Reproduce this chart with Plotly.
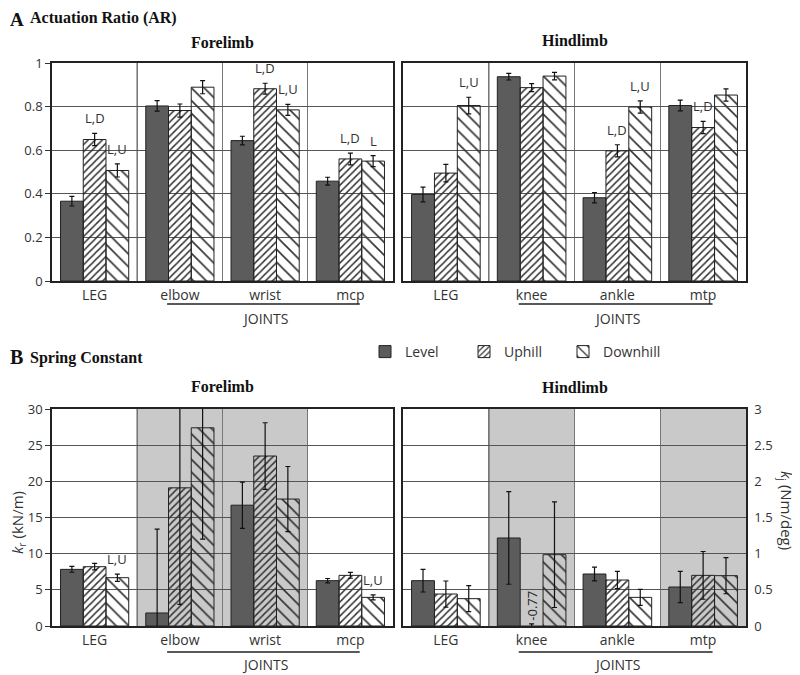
import plotly.graph_objects as go

# Categories
fore_cats = ["LEG", "elbow", "wrist", "mcp"]
hind_cats = ["LEG", "knee", "ankle", "mtp"]
series = ["Level", "Uphill", "Downhill"]

# A: actuation ratio (mean, error)
ar_fore_level = [0.366, 0.803, 0.644, 0.458]
ar_fore_level_err = [0.022, 0.024, 0.020, 0.018]
ar_fore_up = [0.649, 0.782, 0.882, 0.560]
ar_fore_up_err = [0.028, 0.030, 0.025, 0.027]
ar_fore_down = [0.507, 0.889, 0.785, 0.550]
ar_fore_down_err = [0.030, 0.030, 0.025, 0.025]

ar_hind_level = [0.397, 0.937, 0.382, 0.805]
ar_hind_level_err = [0.034, 0.015, 0.024, 0.025]
ar_hind_up = [0.495, 0.887, 0.597, 0.704]
ar_hind_up_err = [0.040, 0.018, 0.028, 0.028]
ar_hind_down = [0.805, 0.940, 0.798, 0.853]
ar_hind_down_err = [0.038, 0.017, 0.028, 0.028]

# B: spring constant, forelimb in kN/m, hindlimb in Nm/deg
k_fore_level = [7.83, 1.8, 16.7, 6.27]
k_fore_level_err = [0.4, 11.6, 3.2, 0.3]
k_fore_up = [8.2, 19.1, 23.5, 7.0]
k_fore_up_err = [0.45, 16.1, 4.6, 0.4]
k_fore_down = [6.68, 27.4, 17.55, 3.96]
k_fore_down_err = [0.5, 15.4, 4.5, 0.35]

k_hind_level = [0.627, 1.217, 0.719, 0.539]
k_hind_level_err = [0.157, 0.64, 0.095, 0.217]
k_hind_up = [0.442, -0.77, 0.636, 0.70]
k_hind_up_err = [0.18, 0.8, 0.12, 0.33]
k_hind_down = [0.378, 0.986, 0.396, 0.696]
k_hind_down_err = [0.18, 0.73, 0.11, 0.25]

# significance labels
ar_fore_up_sig = ["L,D", "", "L,D", "L,D"]
ar_fore_down_sig = ["L,U", "", "L,U", "L"]
ar_hind_up_sig = ["", "", "L,D", "L,D"]
ar_hind_down_sig = ["L,U", "", "L,U", ""]
k_fore_down_sig = ["L,U", "", "", "L,U"]

TICK_FONT = dict(family="Open Sans", size=13, color="#333")
SERIF = "Liberation Serif"
styles = {
    "Level": dict(color="#5c5c5c"),
    "Uphill": dict(color="rgba(0,0,0,0)",
                   pattern=dict(shape="/", size=5, solidity=0.3, fgcolor="#333", fillmode="replace")),
    "Downhill": dict(color="rgba(0,0,0,0)",
                     pattern=dict(shape="\\", size=9, solidity=0.18, fgcolor="#333", fillmode="replace")),
}

# page offset of the plot div (body margin)
W, H, OFF = 800, 675, 8


def px(x):
    return (x - OFF) / W


def py(y):
    return 1 - (y - OFF) / H


fig = go.Figure()


def add_panel(n, cats, vals, errs, legend):
    xa = "x" if n == 1 else f"x{n}"
    ya = "y" if n == 1 else f"y{n}"
    for name, v, e in zip(series, vals, errs):
        fig.add_trace(go.Bar(
            x=cats, y=v, name=name, xaxis=xa, yaxis=ya,
            marker=dict(**styles[name], line=dict(color="#222", width=1)),
            error_y=dict(type="data", array=e, color="#111", thickness=1.2, width=2.5),
            showlegend=legend, legendgroup=name,
        ))


def add_sig(n, vals, errs, labels, offset):
    xa = "x" if n == 1 else f"x{n}"
    ya = "y" if n == 1 else f"y{n}"
    for i, (v, e, lab) in enumerate(zip(vals, errs, labels)):
        if lab:
            fig.add_annotation(x=i + offset, y=v + e, xref=xa, yref=ya, text=lab,
                               showarrow=False, yanchor="bottom", yshift=4,
                               font=dict(family="Open Sans", size=13, color="#333"))


add_panel(1, fore_cats, [ar_fore_level, ar_fore_up, ar_fore_down],
          [ar_fore_level_err, ar_fore_up_err, ar_fore_down_err], True)
add_panel(2, hind_cats, [ar_hind_level, ar_hind_up, ar_hind_down],
          [ar_hind_level_err, ar_hind_up_err, ar_hind_down_err], False)
add_panel(3, fore_cats, [k_fore_level, k_fore_up, k_fore_down],
          [k_fore_level_err, k_fore_up_err, k_fore_down_err], False)
add_panel(4, hind_cats, [k_hind_level, k_hind_up, k_hind_down],
          [k_hind_level_err, k_hind_up_err, k_hind_down_err], False)

w = 0.8 / 3
add_sig(1, ar_fore_up, ar_fore_up_err, ar_fore_up_sig, 0)
add_sig(1, ar_fore_down, ar_fore_down_err, ar_fore_down_sig, w)
add_sig(2, ar_hind_up, ar_hind_up_err, ar_hind_up_sig, 0)
add_sig(2, ar_hind_down, ar_hind_down_err, ar_hind_down_sig, w)
add_sig(3, k_fore_down, k_fore_down_err, k_fore_down_sig, w)

# value of the off-scale knee uphill bar
fig.add_annotation(x=1, y=0.04, xref="x4", yref="y4", text=str(k_hind_up[1]),
                   showarrow=False, textangle=-90, yanchor="bottom",
                   font=dict(family="Open Sans", size=13, color="#222"))

xd_f = [px(52), px(393)]
xd_h = [px(403), px(746)]
yd_a = [py(281), py(63)]
yd_b = [py(626), py(409)]

xcommon = dict(type="category", tickson="boundaries", showgrid=True, gridcolor="#777",
               gridwidth=1, showline=True, linecolor="#222", linewidth=1.5, mirror=True,
               ticks="", tickfont=dict(family="Open Sans", size=14, color="#333"),
               range=[-0.5, 3.5], automargin=False)
ycommon = dict(showgrid=True, gridcolor="#555", gridwidth=1, showline=True, linecolor="#222",
               linewidth=1.5, mirror=True, tickfont=TICK_FONT, zeroline=False, automargin=False)

fig.update_layout(
    width=W, height=H, margin=dict(l=0, r=0, t=0, b=0, autoexpand=False),
    paper_bgcolor="white", plot_bgcolor="white",
    barmode="group", bargap=0.2, bargroupgap=0,
    xaxis=dict(domain=xd_f, anchor="y", **xcommon),
    yaxis=dict(domain=yd_a, anchor="x", range=[0, 1], dtick=0.2, ticks="outside",
               ticklen=5, tickcolor="#333", tickformat=".1~f", **ycommon),
    xaxis2=dict(domain=xd_h, anchor="y2", **xcommon),
    yaxis2=dict(domain=yd_a, anchor="x2", range=[0, 1], dtick=0.2, showticklabels=False,
                ticks="", **ycommon),
    xaxis3=dict(domain=xd_f, anchor="y3", **xcommon),
    yaxis3=dict(domain=yd_b, anchor="x3", range=[0, 30], dtick=5, ticks="outside",
                ticklen=5, tickcolor="#333", **ycommon),
    xaxis4=dict(domain=xd_h, anchor="y4", **xcommon),
    yaxis4=dict(domain=yd_b, anchor="x4", range=[0, 3], dtick=0.5, side="right",
                ticks="", ticklabelstandoff=4, **ycommon),
    legend=dict(orientation="h", x=px(365), y=py(352), xanchor="left", yanchor="middle",
                font=dict(family="Open Sans", size=14, color="#333"),
                entrywidth=54, entrywidthmode="pixels", bgcolor="rgba(0,0,0,0)"),
    font=dict(family="Open Sans", color="#333"),
)

# shaded joint columns in panel B
for xa, ya, spans in [("x3", "y3", [(0.5, 2.5)]), ("x4", "y4", [(0.5, 1.5), (2.5, 3.5)])]:
    for x0, x1 in spans:
        fig.add_shape(type="rect", xref=xa, yref=f"{ya} domain", x0=x0, x1=x1, y0=0, y1=1,
                      fillcolor="#c9c9c9", line_width=0, layer="below")

# darker divider between LEG and the joints
for xa, ya in [("x", "y"), ("x2", "y2"), ("x3", "y3"), ("x4", "y4")]:
    fig.add_shape(type="line", xref=xa, yref=f"{ya} domain", x0=0.5, x1=0.5, y0=0, y1=1,
                  line=dict(color="#222", width=1.2), layer="below")

# JOINTS brackets
for xa, yl, ty in [("x", 304, 318), ("x2", 304, 318), ("x3", 652, 664), ("x4", 652, 664)]:
    fig.add_shape(type="line", xref=xa, yref="paper", x0=0.85, x1=3.11, y0=py(yl), y1=py(yl),
                  line=dict(color="#222", width=1.3))
    fig.add_annotation(x=2, y=py(ty), xref=xa, yref="paper", text="JOINTS", showarrow=False,
                       yanchor="middle", font=dict(family="Open Sans", size=14, color="#333"))


# titles
def title(text, x, y, size, anchor="left", yanchor="middle"):
    fig.add_annotation(x=px(x), y=py(y), xref="paper", yref="paper", text=f"<b>{text}</b>",
                       showarrow=False, xanchor=anchor, yanchor=yanchor, borderpad=0,
                       font=dict(family=SERIF, size=size, color="#111"))


title("A", 9, 8, 19, yanchor="top")
title("Actuation Ratio (AR)", 29, 8, 16, yanchor="top")
title("B", 9, 357, 20)
title("Spring Constant", 29, 358, 16)
title("Forelimb", 222, 42, 16, "center")
title("Hindlimb", 575, 41, 16, "center")
title("Forelimb", 222, 386, 16, "center")
title("Hindlimb", 575, 387, 16, "center")

fig.add_annotation(x=px(18), y=py(523), xref="paper", yref="paper", xanchor="center",
                   yanchor="middle", text="<i>k</i><sub>r</sub> (kN/m)", textangle=-90,
                   borderpad=0, showarrow=False,
                   font=dict(family="Open Sans", size=15, color="#333"))
fig.add_annotation(x=px(786), y=py(510), xref="paper", yref="paper", xanchor="center",
                   yanchor="middle", text="<i>k</i><sub>j</sub> (Nm/deg)", textangle=90,
                   borderpad=0, showarrow=False,
                   font=dict(family="Open Sans", size=15, color="#333"))

fig.write_html("out.html")
